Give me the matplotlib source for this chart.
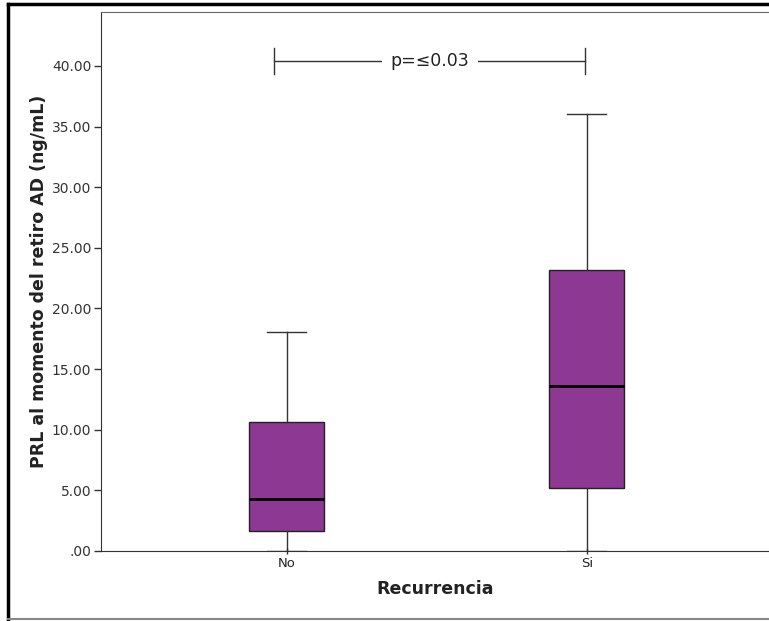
import matplotlib.pyplot as plt
from matplotlib.lines import Line2D

# valores
grupos = ['No', 'Si']
minimos = [0.0, 0.0]
q1 = [1.65, 5.2]
medianas = [4.3, 13.6]
q3 = [10.65, 23.2]
maximos = [18.05, 36.05]
yticks = [0, 5, 10, 15, 20, 25, 30, 35, 40]
p_texto = 'p=\u22640.03'

def etiqueta(v):
    s = '%.2f' % v
    if s.startswith('0'):
        s = s[1:]
    return s

fig = plt.figure(figsize=(7.69, 6.21), dpi=100)
ax = fig.add_axes([101/769, 1-551/621, 1-101/769, (551-12)/621])

stats = []
for i in range(len(grupos)):
    stats.append({'med': medianas[i], 'q1': q1[i], 'q3': q3[i],
                  'whislo': minimos[i], 'whishi': maximos[i], 'fliers': []})

ax.bxp(stats, positions=[0, 1], widths=0.25, capwidths=0.13, patch_artist=True,
       showfliers=False,
       boxprops=dict(facecolor='#8d3892', edgecolor='#222222', linewidth=1),
       medianprops=dict(color='black', linewidth=2),
       whiskerprops=dict(color='#333333', linewidth=1),
       capprops=dict(color='#333333', linewidth=1))

ax.set_xlim(-0.62, 1.607)
ax.set_ylim(0, 44.45)
ax.set_xticks([0, 1])
ax.set_xticklabels(grupos, fontsize=9.5, color='#222222')
ax.set_yticks(yticks)
ax.set_yticklabels([etiqueta(v) for v in yticks], fontsize=10, color='#333333')
ax.tick_params(axis='y', length=5, width=1, color='#333333', pad=2)
ax.tick_params(axis='x', length=5, width=1, direction='inout', color='#333333', pad=2)

ax.spines['right'].set_visible(False)
ax.spines['top'].set_color('#666666')
ax.spines['left'].set_color('#333333')
ax.spines['bottom'].set_color('#333333')

ax.set_ylabel('PRL al momento del retiro AD (ng/mL)', fontsize=12.5, fontweight='bold',
              color='#222222', labelpad=3)
ax.set_xlabel('Recurrencia', fontsize=12.5, fontweight='bold', color='#222222', labelpad=7)

# corchete con valor p
x1, x2, yb = -0.043, 0.993, 40.4
ax.plot([x1, x2], [yb, yb], color='#333333', lw=1)
ax.plot([x1, x1], [39.3, 41.5], color='#333333', lw=1)
ax.plot([x2, x2], [39.3, 41.5], color='#333333', lw=1)
ax.text(0.477, yb, p_texto, ha='center', va='center', fontsize=12.5, color='#222222',
        bbox=dict(facecolor='white', edgecolor='none', pad=6))

# marco exterior
fig.add_artist(Line2D([8/769, 8/769], [0, 1-4/621], color='black', lw=2.5))
fig.add_artist(Line2D([8/769, 1], [1-4/621, 1-4/621], color='black', lw=2.5))
fig.add_artist(Line2D([8/769, 1], [1-619/621, 1-619/621], color='#888888', lw=1.5))

fig.savefig('out.png', dpi=100)
